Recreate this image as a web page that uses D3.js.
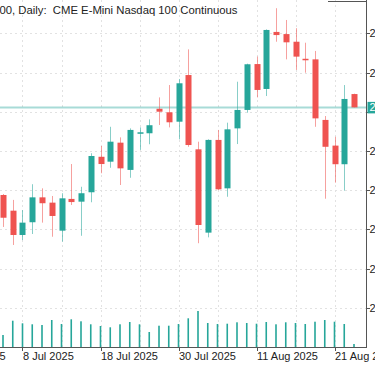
<!DOCTYPE html>
<html>
<head>
<meta charset="utf-8">
<script src="https://cdn.jsdelivr.net/npm/d3@7"></script>
<style>
  html, body { margin: 0; padding: 0; background: #fff; overflow: hidden; }
  svg { display: block; font-family: "Liberation Sans", Arial, sans-serif; }
</style>
</head>
<body>
<div id="chart"></div>
<script>
// daily bars, NQ continuous
var dates = ["3 Jul","7 Jul","8 Jul","9 Jul","10 Jul","11 Jul","14 Jul","15 Jul","16 Jul","17 Jul",
             "18 Jul","21 Jul","22 Jul","23 Jul","24 Jul","25 Jul","28 Jul","29 Jul","30 Jul","31 Jul",
             "1 Aug","4 Aug","5 Aug","6 Aug","7 Aug","8 Aug","11 Aug","12 Aug","13 Aug","14 Aug",
             "15 Aug","18 Aug","19 Aug","20 Aug","21 Aug","22 Aug","25 Aug"];
var open  = [22975,22895,22771,22836,22963,22936,22793,22955,22941,22989,
             23170,23145,23242,23103,23291,23290,23415,23397,23349,23587,
             23208,22783,23256,23009,23315,23409,23643,23516,23807,23796,
             23757,23670,23667,23358,23227,23132,23490];
var high  = [22980,22950,22898,23030,23009,22970,22984,23133,23017,23188,
             23225,23323,23269,23315,23320,23361,23473,23536,23567,23718,
             23247,23259,23307,23344,23553,23645,23681,23820,23928,23868,
             23826,23752,23710,23378,23272,23536,23492];
var low   = [22812,22720,22745,22776,22834,22762,22737,22924,22767,22938,
             23086,23114,23026,23063,23205,23234,23332,23320,23259,23221,
             22729,22759,23000,22966,23235,23395,23473,23480,23757,23667,
             23613,23599,23323,22956,23038,22997,23422];
var close = [22859,22771,22834,22963,22933,22868,22958,22939,22984,23174,
             23133,23247,23111,23307,23295,23331,23400,23346,23545,23230,
             22822,23256,23004,23310,23409,23642,23511,23817,23791,23754,
             23681,23664,23366,23221,23132,23465,23422];
var volume = [240000,526000,474000,454000,440000,540000,460000,554000,514000,454000,
              420000,394000,454000,500000,454000,300000,426000,426000,460000,574000,
              720000,480000,460000,466000,494000,480000,466000,500000,454000,494000,
              480000,460000,506000,540000,506000,460000,60000];

var priceTicks = [22400,22600,22800,23000,23200,23400,23600,23800];
var timeTickIdx = [-6,2,10,18,26,34];
var timeTickLabels = ["25 Jun 2025","8 Jul 2025","18 Jul 2025","30 Jul 2025","11 Aug 2025","21 Aug 2025"];
var gridIdx = [-2,2,6,10,14,18,22,26,30,34];
var title = "00, Daily:  CME E-Mini Nasdaq 100 Continuous";

var W = 375, H = 366;
var right = 366, axisY = 347;
var up = "#26a69a", down = "#ef5350";

var svg = d3.select("#chart").append("svg").attr("width", W).attr("height", H);

var x = d3.scaleLinear().domain([0, 36]).range([3, 354]);
var y = d3.scaleLinear().domain([22400, 23800]).range([307.7, 33.3]);
var v = d3.scaleLinear().domain([0, 2000000]).range([axisY, axisY - 100]);

// grid
svg.selectAll(".hgrid").data(priceTicks).enter().append("line")
  .attr("x1", 0).attr("x2", right)
  .attr("y1", function(d) { return Math.round(y(d)) + 0.5; })
  .attr("y2", function(d) { return Math.round(y(d)) + 0.5; })
  .attr("stroke", "#e2e2e2").attr("stroke-dasharray", "2,3");
svg.selectAll(".vgrid").data(gridIdx).enter().append("line")
  .attr("x1", function(d) { return Math.round(x(d)) + 0.5; })
  .attr("x2", function(d) { return Math.round(x(d)) + 0.5; })
  .attr("y1", 0).attr("y2", axisY)
  .attr("stroke", "#e2e2e2").attr("stroke-dasharray", "2,3");

// volume
svg.selectAll(".vol").data(volume).enter().append("rect")
  .attr("x", function(d, i) { return x(i) - 0.8; })
  .attr("y", function(d) { return v(d); })
  .attr("width", 1.6)
  .attr("height", function(d) { return axisY - v(d); })
  .attr("fill", up);

// current price line
var last = close[close.length - 1];
svg.append("line")
  .attr("x1", 0).attr("x2", right)
  .attr("y1", y(last)).attr("y2", y(last))
  .attr("stroke", up).attr("stroke-opacity", 0.4).attr("stroke-width", 2);

// candles
var candles = svg.selectAll(".candle").data(dates).enter().append("g");
candles.append("line")
  .attr("x1", function(d, i) { return Math.round(x(i)) + 0.5; })
  .attr("x2", function(d, i) { return Math.round(x(i)) + 0.5; })
  .attr("y1", function(d, i) { return y(high[i]); })
  .attr("y2", function(d, i) { return y(low[i]); })
  .attr("stroke", function(d, i) { return close[i] >= open[i] ? up : down; })
  .attr("stroke-opacity", 0.55);
candles.append("rect")
  .attr("x", function(d, i) { return Math.round(x(i)) + 0.5 - 3; })
  .attr("y", function(d, i) { return y(Math.max(open[i], close[i])); })
  .attr("width", 6)
  .attr("height", function(d, i) { return Math.max(1.5, Math.abs(y(open[i]) - y(close[i]))); })
  .attr("fill", function(d, i) { return close[i] >= open[i] ? up : down; });

// frame
svg.append("line").attr("x1", right + 0.5).attr("x2", right + 0.5).attr("y1", 0).attr("y2", axisY)
  .attr("stroke", "#555");
svg.append("line").attr("x1", 0).attr("x2", right + 1).attr("y1", axisY + 0.5).attr("y2", axisY + 0.5)
  .attr("stroke", "#555");
svg.append("line").attr("x1", 328).attr("x2", right + 1).attr("y1", 1.5).attr("y2", 1.5)
  .attr("stroke", "#555");

// price axis (the label under the price tag is hidden by it)
svg.selectAll(".ptick").data(priceTicks).enter().append("line")
  .attr("x1", right).attr("x2", right + 4)
  .attr("y1", function(d) { return Math.round(y(d)) + 0.5; })
  .attr("y2", function(d) { return Math.round(y(d)) + 0.5; })
  .attr("stroke", "#555");
svg.selectAll(".plabel").data(priceTicks.filter(function(d) { return Math.abs(y(d) - y(close[close.length - 1])) > 10; }))
  .enter().append("text")
  .attr("x", right + 3.5)
  .attr("y", function(d) { return y(d) + 4; })
  .attr("font-size", 11).attr("fill", "#222")
  .text(function(d) { return d3.format(".2f")(d); });

// current price tag
svg.append("rect").attr("x", right + 1.5).attr("y", y(last) - 5.5).attr("width", 50).attr("height", 11.5)
  .attr("fill", up);
svg.append("text").attr("x", right + 3.5).attr("y", y(last) + 4)
  .attr("font-size", 11).attr("fill", "#fff")
  .text(d3.format(".2f")(last));

// time axis
svg.selectAll(".ttick").data(timeTickIdx).enter().append("line")
  .attr("x1", function(d) { return Math.round(x(d)) + 0.5; })
  .attr("x2", function(d) { return Math.round(x(d)) + 0.5; })
  .attr("y1", axisY).attr("y2", axisY + 4)
  .attr("stroke", "#555");
svg.selectAll(".tlabel").data(timeTickIdx).enter().append("text")
  .attr("x", function(d) { return x(d) + 0.5; })
  .attr("y", 360)
  .attr("font-size", 11).attr("fill", "#222")
  .text(function(d, i) { return timeTickLabels[i]; });

// title
svg.append("text").attr("x", -0.5).attr("y", 14)
  .attr("font-size", 11.3).attr("fill", "#222")
  .style("white-space", "pre")
  .text(title);
</script>
</body>
</html>
